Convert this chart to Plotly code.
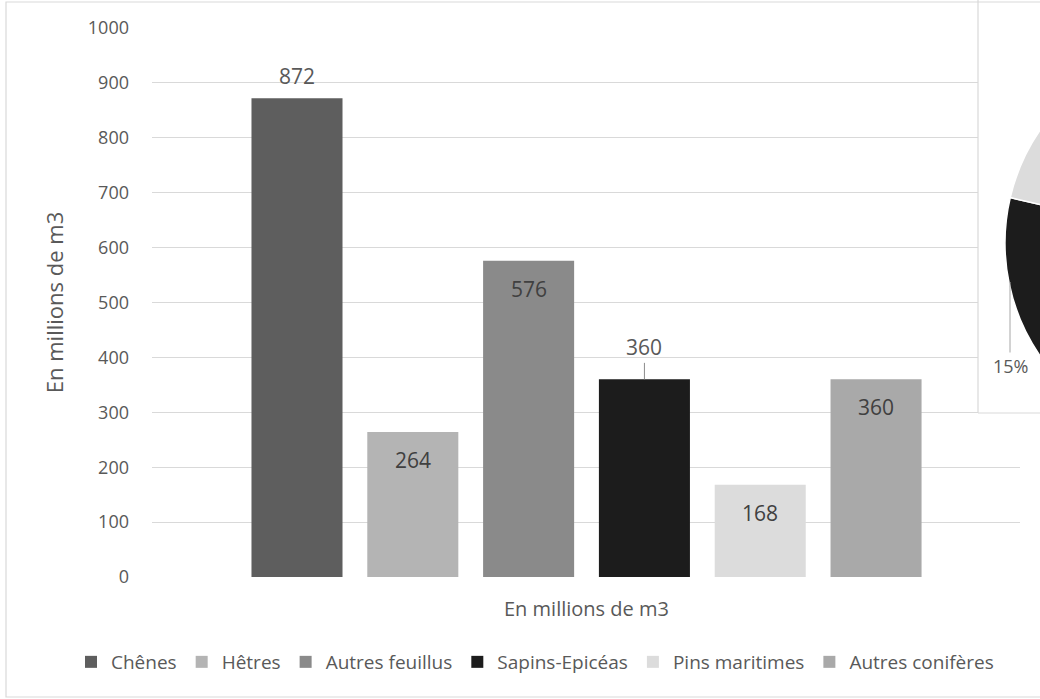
import plotly.graph_objects as go

# ---- data ----
categories = ["Chênes", "Hêtres", "Autres feuillus", "Sapins-Epicéas", "Pins maritimes", "Autres conifères"]
volumes = [872, 264, 576, 360, 168, 360]
y_ticks = [0, 100, 200, 300, 400, 500, 600, 700, 800, 900, 1000]
axis_title = "En millions de m3"
pie_label_text = "15%"

# ---- styles ----
colors = ["#5e5e5e", "#b4b4b4", "#8a8a8a", "#1c1c1c", "#dcdcdc", "#a9a9a9"]
label_style = ["above", "inside", "inside", "callout", "inside", "inside"]
FONT = "Open Sans"
TXT = "#595959"
GRID = "#d9d9d9"

OFF = 0  # body margin removed via post_script
W, H = 1440, 699
ML, MR, MT = 152 - OFF, 10, 28 - OFF
MB = H - (577 - OFF)
PW = W - ML - MR
PH = H - MT - MB
XR = [-1.252, 6.243]


def px_x(px):
    return (px - OFF - ML) / PW


def px_y(py):
    return (H - MB - (py - OFF)) / PH


def data_x(px):
    return XR[0] + (px - 152) / 868 * (XR[1] - XR[0])


fig = go.Figure()

for name, val, col in zip(categories, volumes, colors):
    fig.add_trace(go.Bar(
        x=[name], y=[val], name=name,
        marker=dict(color=col, line=dict(width=0)),
        width=0.786, hoverinfo="name+y",
    ))

# pie (partly hidden beyond the right edge, as in the reference)
fig.add_trace(go.Pie(
    labels=categories, values=volumes, sort=False, direction="clockwise",
    rotation=-3.7,
    marker=dict(colors=colors, line=dict(color="white", width=1.5)),
    textinfo="none", showlegend=False, hole=0,
    domain=dict(x=[px_x(1005), px_x(1403)], y=[px_y(442), px_y(44)]),
))

annotations = []
for name, val, st in zip(categories, volumes, label_style):
    if st == "callout":
        annotations.append(dict(
            x=name, y=val, xref="x", yref="y", text=str(val),
            showarrow=True, arrowhead=0, arrowwidth=1, arrowcolor="#8c8c8c",
            ax=0, ay=-32, standoff=0,
            font=dict(family=FONT, size=21, color=TXT)))
    else:
        annotations.append(dict(
            x=name, y=val, xref="x", yref="y", text=str(val), showarrow=False,
            xanchor="center", yanchor="middle",
            yshift=22 if st == "above" else -28,
            font=dict(family=FONT, size=21, color="#404040" if st == "inside" else TXT)))

# x axis title
annotations.append(dict(
    x=px_x(586), y=px_y(608), xref="paper", yref="paper", text=axis_title,
    xanchor="center", yanchor="middle",
    showarrow=False, font=dict(family=FONT, size=20, color=TXT)))

# pie percentage label with leader line
annotations.append(dict(
    x=px_x(1010), y=px_y(282), xref="paper", yref="paper", text=pie_label_text,
    showarrow=True, arrowhead=0, arrowwidth=1, arrowcolor="#a6a6a6",
    ax=0, ay=84, standoff=0,
    font=dict(family=FONT, size=18, color=TXT)))

shapes = [
    # outer chart border
    dict(type="rect", xref="paper", yref="paper", layer="below",
         x0=px_x(6), x1=px_x(1446), y0=px_y(697), y1=px_y(2),
         line=dict(color=GRID, width=1.2), fillcolor="white"),
    # white box of the overlapping pie chart (hides gridlines)
    dict(type="rect", xref="x", yref="y", layer="between",
         x0=data_x(978), x1=XR[1] + 5, y0=(577 - 413) / 549 * 1000, y1=1300,
         line=dict(width=0), fillcolor="white"),
    # borders of that box
    dict(type="line", xref="paper", yref="paper", layer="above",
         x0=px_x(978), x1=px_x(978), y0=px_y(413), y1=px_y(-5),
         line=dict(color=GRID, width=1.2)),
    dict(type="line", xref="paper", yref="paper", layer="above",
         x0=px_x(978), x1=px_x(1446), y0=px_y(413), y1=px_y(413),
         line=dict(color=GRID, width=1.2)),
]

fig.update_layout(
    width=W, height=H,
    margin=dict(l=ML, r=MR, t=MT, b=MB),
    paper_bgcolor="white", plot_bgcolor="white",
    barmode="overlay",
    font=dict(family=FONT, size=19, color=TXT),
    showlegend=True,
    legend=dict(orientation="h", x=px_x(535), xanchor="center",
                y=px_y(662), yanchor="middle",
                font=dict(family=FONT, size=19, color=TXT),
                itemwidth=30, traceorder="normal"),
    xaxis=dict(domain=[0, 868 / PW], type="category", categoryorder="array",
               categoryarray=categories, range=XR,
               showticklabels=False, showgrid=False, zeroline=False,
               showline=False, ticks=""),
    yaxis=dict(range=[0, 1000], tickvals=y_ticks, showgrid=True, gridcolor=GRID,
               gridwidth=1.2, zeroline=False, showline=False, ticks="",
               ticklabelstandoff=22,
               tickfont=dict(family=FONT, size=18, color=TXT),
               title=dict(text=axis_title, standoff=18,
                          font=dict(family=FONT, size=22, color=TXT))),
    annotations=annotations,
    shapes=shapes,
)

fig.write_html("out.html", post_script="document.body.style.margin='0';")
